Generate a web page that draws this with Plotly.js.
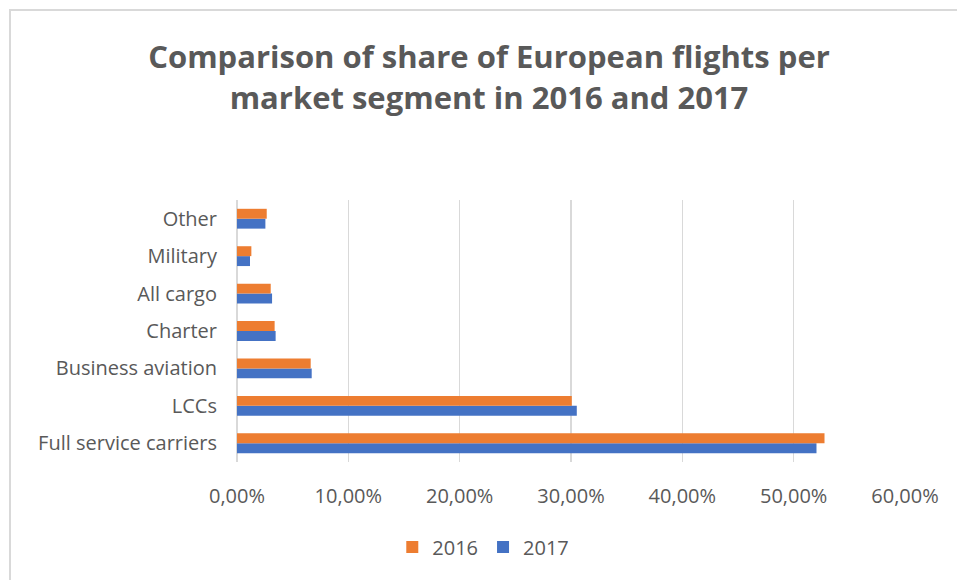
<!DOCTYPE html>
<html>
<head>
<meta charset="utf-8">
<script src="https://cdn.plot.ly/plotly-3.0.1.min.js"></script>
<style>
  html, body { margin: 0; padding: 0; background: #fff; }
  #wrap { position: absolute; left: 0; top: 0; width: 957px; height: 580px; overflow: hidden; }
  #frame { position: absolute; left: 9px; top: 9px; width: 960px; height: 580px; border-top: 2px solid #d9d9d9; border-left: 2px solid #d9d9d9; box-sizing: border-box; pointer-events: none; }
  #chart { position: absolute; left: 0; top: 0; width: 957px; height: 580px; }
</style>
</head>
<body>
<div id="wrap">
  <div id="chart"></div>
  <div id="frame"></div>
</div>
<script>
const categories = ["Full service carriers", "LCCs", "Business aviation", "Charter", "All cargo", "Military", "Other"];
const values2016 = [52.77, 30.07, 6.62, 3.38, 3.03, 1.29, 2.67];
const values2017 = [52.05, 30.52, 6.71, 3.47, 3.15, 1.17, 2.55];
const xTickValues = [0, 10, 20, 30, 40, 50, 60];
const xTickLabels = ["0,00%", "10,00%", "20,00%", "30,00%", "40,00%", "50,00%", "60,00%"];

const font = "'Open Sans', 'Noto Sans', sans-serif";
const gray = "#595959";

const traces = [
  { type: "bar", orientation: "h", name: "2017", y: categories, x: values2017,
    marker: { color: "#4472C4" }, hoverinfo: "x+name" },
  { type: "bar", orientation: "h", name: "2016", y: categories, x: values2016,
    marker: { color: "#ED7D31" }, hoverinfo: "x+name" }
];

const layout = {
  width: 957, height: 580,
  paper_bgcolor: "rgba(0,0,0,0)", plot_bgcolor: "rgba(0,0,0,0)",
  margin: { l: 237, r: 52, t: 200, b: 118 },
  barmode: "group",
  bargap: 0.47,
  bargroupgap: 0,
  font: { family: font, color: gray, size: 20 },
  title: {
    text: "<b>Comparison of share of European flights per<br>market segment in 2016 and 2017</b>",
    font: { family: font, size: 31, color: gray },
    xref: "container", x: 0.511, xanchor: "center",
    yref: "container", y: 0.882, yanchor: "middle"
  },
  xaxis: {
    range: [0, 60], tickmode: "array", tickvals: xTickValues, ticktext: xTickLabels,
    showgrid: true, gridcolor: "#d9d9d9", gridwidth: 1.5,
    zeroline: true, zerolinecolor: "#d9d9d9", zerolinewidth: 2,
    showline: false, ticks: "", ticklabelstandoff: 20,
    tickfont: { family: font, size: 20, color: gray }, fixedrange: true
  },
  yaxis: {
    type: "category", categoryorder: "array", categoryarray: categories,
    showgrid: false, zeroline: false, showline: false, ticks: "",
    ticklabelstandoff: 19,
    tickfont: { family: font, size: 20, color: gray }, fixedrange: true
  },
  legend: {
    orientation: "h", traceorder: "reversed",
    xref: "container", x: 0.505, xanchor: "center",
    yref: "container", y: 0.057, yanchor: "middle",
    font: { family: font, size: 20, color: gray },
    itemwidth: 30
  },
  showlegend: true
};

Plotly.newPlot("chart", traces, layout, { displayModeBar: false, staticPlot: true });
</script>
</body>
</html>
